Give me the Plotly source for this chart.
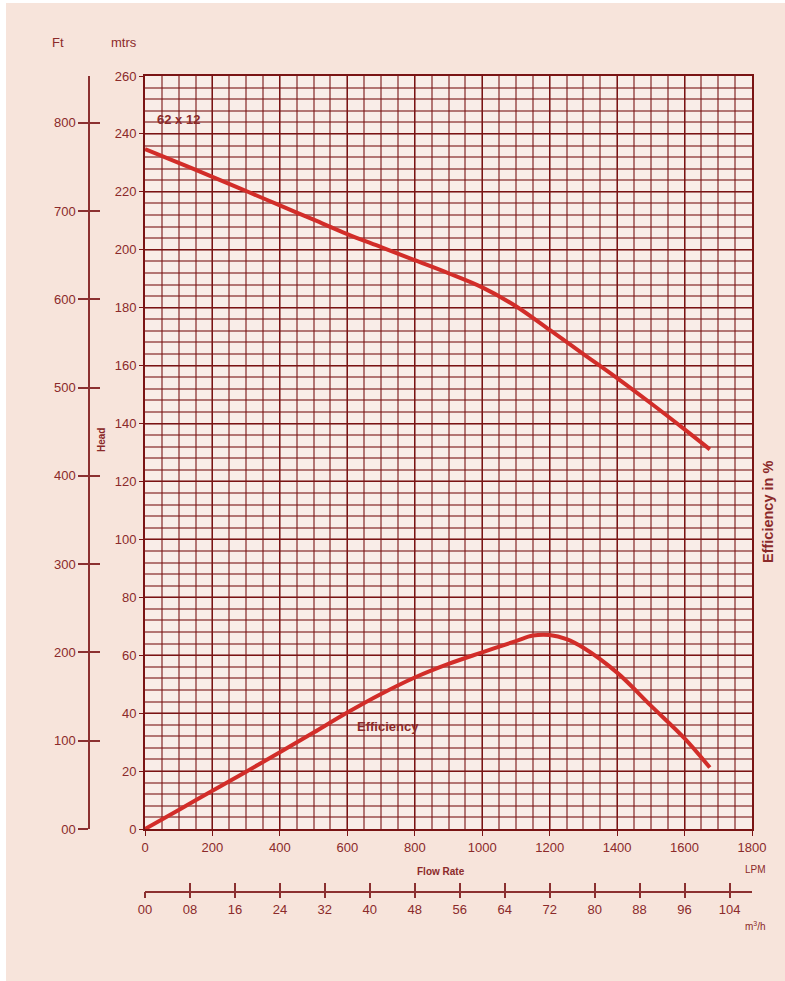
import plotly.graph_objects as go

# ---- data ----
lpm_head = [0, 100, 200, 300, 400, 500, 600, 700, 800, 900, 1000, 1100, 1200, 1300, 1400, 1500, 1600, 1675]
head_m = [234.8, 230.0, 225.2, 220.3, 215.3, 210.4, 205.4, 200.9, 196.4, 191.9, 187.0, 180.5, 172.3, 164.0, 155.7, 147.0, 138.0, 131.1]
lpm_eff = [0, 100, 200, 300, 400, 500, 600, 700, 800, 900, 1000, 1100, 1150, 1200, 1250, 1300, 1400, 1500, 1600, 1675]
eff_pct = [0, 6.6, 13.2, 19.8, 26.5, 33.3, 40.2, 46.6, 52.3, 57.0, 61.0, 64.9, 66.8, 67.0, 65.6, 62.6, 54.0, 42.6, 31.3, 21.2]

lpm_ticks = [0, 200, 400, 600, 800, 1000, 1200, 1400, 1600, 1800]
m_ticks = list(range(0, 261, 20))
ft_ticks = list(range(0, 801, 100))
ft_labels = ["00"] + [str(v) for v in ft_ticks[1:]]
eff_ticks = [20, 40, 60, 80]
m3h_ticks = list(range(0, 105, 8))
m3h_labels = ["%02d" % v for v in m3h_ticks]

M_TO_FT = 1 / 0.3048
LPM_PER_M3H = 1000 / 60

head_ft = [h * M_TO_FT for h in head_m]
m3h_head = [q / LPM_PER_M3H for q in lpm_head]

# ---- style ----
W, H = 785, 981
ML, MR, MT, MB = 40, 33, 76, 40
PW, PH = W - ML - MR, H - MT - MB
PLOT_L, PLOT_R, PLOT_T, PLOT_B = 145, 752, 76, 829
DARK = "#7a1414"
AX = "#8b3030"
TXT = "#8b2a2a"
CURVE = "#d22d29"
FONT = "Liberation Sans, Arial, sans-serif"


def px(x):
    return (x - ML) / PW


def py(y):
    return (H - MB - y) / PH


xdom = [px(PLOT_L), px(PLOT_R)]
ydom = [py(PLOT_B), py(PLOT_T)]
xmax = 1800
ymax = 260

fig = go.Figure()
fig.add_trace(go.Scatter(x=lpm_head, y=head_m, mode="lines",
                         line=dict(color=CURVE, width=4, shape="spline", smoothing=1.0),
                         hoverinfo="skip", showlegend=False))
fig.add_trace(go.Scatter(x=lpm_eff, y=eff_pct, mode="lines",
                         line=dict(color=CURVE, width=4, shape="spline", smoothing=1.0),
                         hoverinfo="skip", showlegend=False))
# the same head curve expressed in feet and in m3/h binds the extra scales
# (drawn with zero width: it coincides with the metre curve)
for ya in ("y3", "y4"):
    fig.add_trace(go.Scatter(x=lpm_head, y=head_ft, xaxis="x", yaxis=ya, mode="lines",
                             line=dict(color=CURVE, width=0), hoverinfo="skip", showlegend=False))
for xa in ("x3", "x4"):
    fig.add_trace(go.Scatter(x=m3h_head, y=head_m, xaxis=xa, yaxis="y", mode="lines",
                             line=dict(color=CURVE, width=0), hoverinfo="skip", showlegend=False))

tickfont = dict(family=FONT, size=13, color=TXT)

fig.update_layout(
    width=W, height=H,
    margin=dict(l=ML, r=MR, t=MT, b=MB),
    paper_bgcolor="#f7e4db",
    plot_bgcolor="#f9ede8",
    font=dict(family=FONT, color=TXT),
    showlegend=False,
    xaxis=dict(domain=xdom, range=[0, xmax], tickvals=lpm_ticks, tickfont=tickfont,
               showgrid=True, gridcolor=DARK, gridwidth=1,
               minor=dict(dtick=50, showgrid=True, gridcolor="rgba(122,20,20,0.55)", gridwidth=1.6),
               showline=True, linecolor=DARK, linewidth=2, mirror=True,
               ticks="outside", ticklen=5, tickcolor=DARK, zeroline=False, fixedrange=True),
    yaxis=dict(domain=ydom, range=[0, ymax], tickvals=m_ticks, tickfont=tickfont,
               showgrid=True, gridcolor=DARK, gridwidth=1,
               minor=dict(dtick=4, showgrid=True, gridcolor="rgba(122,20,20,0.55)", gridwidth=1.6),
               showline=True, linecolor=DARK, linewidth=2, mirror=True,
               ticks="outside", ticklen=4, tickcolor=DARK, zeroline=False, fixedrange=True),
    # efficiency axis (right) - same scale as metres
    yaxis2=dict(overlaying="y", side="right", anchor="x", range=[0, ymax], tickvals=eff_ticks,
                tickfont=tickfont, showgrid=False, showline=False, ticks="outside", ticklen=5,
                tickcolor=DARK, zeroline=False, fixedrange=True),
    # feet axis (left, free)
    yaxis3=dict(overlaying="y", side="left", anchor="free", position=px(89),
                range=[0, ymax * M_TO_FT], tickvals=ft_ticks, ticktext=ft_labels,
                tickfont=tickfont, showgrid=False, showline=True, linecolor=AX, linewidth=1.5,
                ticks="outside", ticklen=10, tickcolor=AX, tickwidth=1.5,
                zeroline=False, fixedrange=True),
    yaxis4=dict(overlaying="y", side="left", anchor="free", position=px(89),
                range=[0, ymax * M_TO_FT], tickvals=ft_ticks, showticklabels=False,
                showgrid=False, showline=False, ticks="inside", ticklen=10,
                tickcolor=AX, tickwidth=1.5, zeroline=False, fixedrange=True),
    # m3/h axis (below)
    xaxis3=dict(overlaying="x", anchor="free", position=py(891.5),
                range=[0, xmax / LPM_PER_M3H],
                tickvals=m3h_ticks, ticktext=m3h_labels, tickfont=tickfont,
                showgrid=False, showline=True, linecolor=AX, linewidth=1.5,
                ticks="outside", ticklen=6, tickcolor=AX, tickwidth=1.5,
                zeroline=False, fixedrange=True),
    xaxis4=dict(overlaying="x", anchor="free", position=py(891.5),
                range=[0, xmax / LPM_PER_M3H],
                tickvals=m3h_ticks, showticklabels=False,
                showgrid=False, showline=False,
                ticks="inside", ticklen=9, tickcolor=AX, tickwidth=1.5,
                zeroline=False, fixedrange=True),
)


def ann(text, x, y, size=13, bold=False, angle=0, xanchor="center"):
    t = "<b>%s</b>" % text if bold else text
    fig.add_annotation(text=t, x=px(x), y=py(y), xref="paper", yref="paper",
                       showarrow=False, textangle=angle, xanchor=xanchor, yanchor="middle",
                       font=dict(family=FONT, size=size, color=TXT))


ann("Ft", 58, 43)
ann("mtrs", 124, 43)
ann("62 x 12", 178, 120, size=13, bold=True)
ann("Efficiency", 388, 726, size=13, bold=True)
ann("Head", 101, 440, size=10, bold=True, angle=-90)
ann("Efficiency in %", 768, 512, size=14.5, bold=True, angle=-90)
ann("Flow Rate", 441, 871, size=10, bold=True)
ann("LPM", 755, 869, size=10)
ann("m<sup>3</sup>/h", 755, 926, size=10)

# white page strips at the left and top edge
fig.add_shape(type="rect", xref="paper", yref="paper", x0=px(0), x1=px(6), y0=py(H), y1=py(0),
              fillcolor="white", line=dict(width=0), layer="above")
fig.add_shape(type="rect", xref="paper", yref="paper", x0=px(0), x1=px(W), y0=py(3), y1=py(0),
              fillcolor="white", line=dict(width=0), layer="above")

fig.write_html("out.html")
